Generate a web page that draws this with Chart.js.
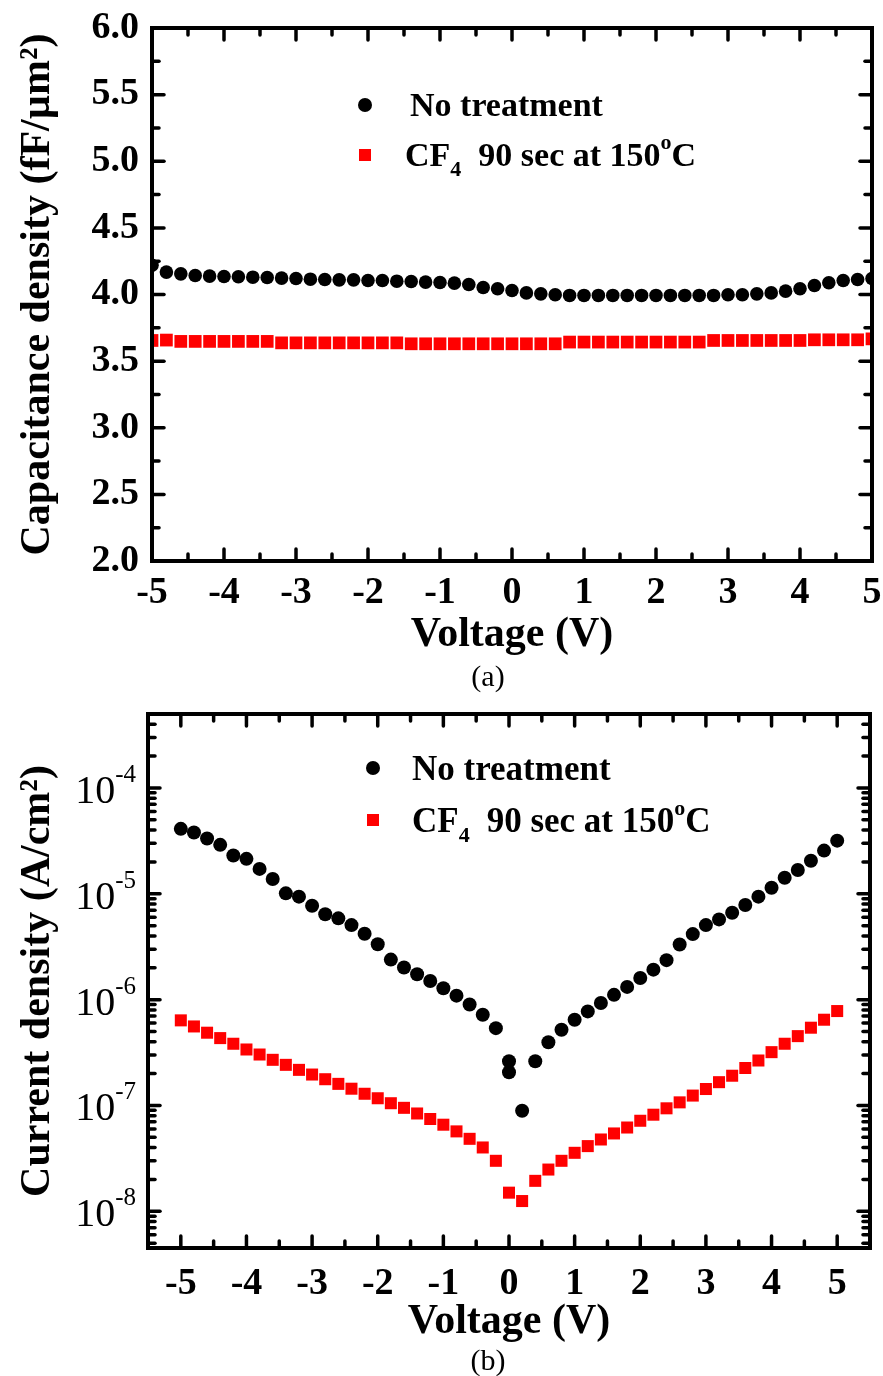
<!DOCTYPE html>
<html>
<head>
<meta charset="utf-8">
<script src="https://cdn.jsdelivr.net/npm/chart.js@4.4.1/dist/chart.umd.min.js"></script>
<style>
  body { margin: 0; background: #fff; }
  #page { position: relative; width: 883px; height: 1376px; overflow: hidden; }
  canvas { position: absolute; left: 0; }
  .tag { position: absolute; left: 438px; width: 100px; text-align: center;
         font: 30px 'Liberation Serif', 'Times New Roman', serif; line-height: 30px; }
</style>
</head>
<body>
<div id="page">
  <canvas id="capChart" width="883" height="690" style="top:0"></canvas>
  <canvas id="curChart" width="883" height="686" style="top:690px"></canvas>
  <div class="tag" style="top:661px">(a)</div>
  <div class="tag" style="top:1345px">(b)</div>
</div>
<script>
const serif = "'Liberation Serif', 'Times New Roman', serif";

// sweep voltage (V)
const voltage = [-5, -4.8, -4.6, -4.4, -4.2, -4, -3.8, -3.6, -3.4, -3.2, -3, -2.8, -2.6, -2.4, -2.2, -2,
  -1.8, -1.6, -1.4, -1.2, -1, -0.8, -0.6, -0.4, -0.2, 0, 0.2, 0.4, 0.6, 0.8, 1, 1.2, 1.4, 1.6, 1.8, 2,
  2.2, 2.4, 2.6, 2.8, 3, 3.2, 3.4, 3.6, 3.8, 4, 4.2, 4.4, 4.6, 4.8, 5];

// (a) capacitance density (fF/um2)
const capNone = [4.22, 4.168, 4.155, 4.143, 4.138, 4.135, 4.133, 4.13, 4.128, 4.123, 4.12, 4.115, 4.113,
  4.11, 4.11, 4.105, 4.105, 4.10, 4.098, 4.093, 4.09, 4.085, 4.075, 4.053, 4.043, 4.03, 4.012, 4.005,
  3.998, 3.993, 3.993, 3.993, 3.993, 3.993, 3.993, 3.993, 3.993, 3.993, 3.993, 3.993, 3.998, 3.998,
  4.005, 4.012, 4.025, 4.043, 4.068, 4.088, 4.105, 4.113, 4.12];
const capCF4 = [3.655, 3.658, 3.648, 3.648, 3.648, 3.648, 3.648, 3.648, 3.648, 3.637, 3.637, 3.637,
  3.637, 3.637, 3.637, 3.637, 3.637, 3.637, 3.63, 3.63, 3.63, 3.63, 3.63, 3.63, 3.63, 3.63, 3.63, 3.63,
  3.63, 3.643, 3.643, 3.643, 3.643, 3.643, 3.643, 3.643, 3.643, 3.643, 3.643, 3.655, 3.655, 3.655,
  3.655, 3.655, 3.655, 3.655, 3.66, 3.66, 3.66, 3.66, 3.667];

// (b) current density (A/cm2); untreated sweep has two readings at 0 V
const curVoltageNone = [-5, -4.8, -4.6, -4.4, -4.2, -4, -3.8, -3.6, -3.4, -3.2, -3, -2.8, -2.6, -2.4,
  -2.2, -2, -1.8, -1.6, -1.4, -1.2, -1, -0.8, -0.6, -0.4, -0.2, 0, 0, 0.2, 0.4, 0.6, 0.8, 1, 1.2, 1.4,
  1.6, 1.8, 2, 2.2, 2.4, 2.6, 2.8, 3, 3.2, 3.4, 3.6, 3.8, 4, 4.2, 4.4, 4.6, 4.8, 5];
const curNone = [4.11e-5, 3.8e-5, 3.33e-5, 2.9e-5, 2.3e-5, 2.14e-5, 1.72e-5, 1.38e-5, 1.01e-5, 9.4e-6,
  7.7e-6, 6.4e-6, 5.86e-6, 5.06e-6, 4.19e-6, 3.34e-6, 2.39e-6, 2.01e-6, 1.74e-6, 1.5e-6, 1.28e-6,
  1.09e-6, 9.0e-7, 7.2e-7, 5.38e-7, 2.62e-7, 2.06e-7, 8.9e-8, 2.62e-7, 3.96e-7, 5.19e-7, 6.45e-7,
  7.74e-7, 9.3e-7, 1.11e-6, 1.32e-6, 1.6e-6, 1.92e-6, 2.36e-6, 3.32e-6, 4.16e-6, 5.06e-6, 5.73e-6,
  6.62e-6, 7.83e-6, 9.4e-6, 1.14e-5, 1.42e-5, 1.68e-5, 2.05e-5, 2.56e-5, 3.18e-5];
const curCF4 = [6.37e-7, 5.58e-7, 4.87e-7, 4.33e-7, 3.83e-7, 3.38e-7, 3.03e-7, 2.7e-7, 2.42e-7, 2.17e-7,
  1.96e-7, 1.77e-7, 1.6e-7, 1.44e-7, 1.29e-7, 1.17e-7, 1.05e-7, 9.5e-8, 8.4e-8, 7.45e-8, 6.58e-8,
  5.69e-8, 4.84e-8, 4.01e-8, 3.0e-8, 1.5e-8, 1.25e-8, 1.94e-8, 2.48e-8, 3.0e-8, 3.57e-8, 4.13e-8,
  4.77e-8, 5.44e-8, 6.19e-8, 7.17e-8, 8.18e-8, 9.4e-8, 1.07e-7, 1.24e-7, 1.43e-7, 1.66e-7, 1.91e-7,
  2.26e-7, 2.66e-7, 3.19e-7, 3.83e-7, 4.52e-7, 5.43e-7, 6.46e-7, 7.8e-7];

// axis ticks
const voltageTicks = [-5, -4, -3, -2, -1, 0, 1, 2, 3, 4, 5];
const capTicks = [2.0, 2.5, 3.0, 3.5, 4.0, 4.5, 5.0, 5.5, 6.0];
const curDecades = [1e-8, 1e-7, 1e-6, 1e-5, 1e-4];
const curExponents = ['-8', '-7', '-6', '-5', '-4'];

const seriesNames = ['No treatment', 'CF\u2084 90 sec at 150\u00b0C'];
const legendParts = [
    [{ text: 'No treatment' }],
    [{ text: 'CF' }, { text: '4', small: true, dy: 10, gap: 17 }, { text: '90 sec at 150' },
     { text: 'o', small: true, dy: -17 }, { text: 'C' }],
];

const pts = (xs, ys) => xs.map((x, i) => ({ x, y: ys[i] }));

// inward ticks on all four sides + heavy frame
const frameTicks = {
    id: "frameTicks",
    afterDraw(chart, args, opts) {
        const { ctx, chartArea: a, scales: { x, y } } = chart;
        const line = (x1, y1, x2, y2) => { ctx.beginPath(); ctx.moveTo(x1, y1); ctx.lineTo(x2, y2); ctx.stroke(); };
        ctx.save();
        ctx.strokeStyle = "#000";
        ctx.lineCap = "round";
        ctx.lineWidth = 3.5;
        const xt = (list, len) => list.forEach((v) => {
            const p = x.getPixelForValue(v);
            line(p, a.bottom, p, a.bottom - len);
            line(p, a.top, p, a.top + len);
        });
        const yt = (list, len) => list.forEach((v) => {
            const p = y.getPixelForValue(v);
            line(a.left, p, a.left + len, p);
            line(a.right, p, a.right - len, p);
        });
        xt(opts.xMajor, 12); xt(opts.xMinor, 7);
        yt(opts.yMajor, 12); yt(opts.yMinor, 7);
        ctx.lineCap = "square";
        ctx.lineWidth = 4;
        ctx.strokeRect(a.left, a.top, a.right - a.left, a.bottom - a.top);
        ctx.restore();
    },
};

// legend with sub/superscripts
const richLegend = {
    id: "richLegend",
    afterDraw(chart, args, opts) {
        const { ctx } = chart;
        ctx.save();
        ctx.fillStyle = "#000";
        ctx.textBaseline = "alphabetic";
        legendParts.forEach((parts, i) => {
            const cy = opts.y + i * opts.gapY;
            if (i === 0) {
                ctx.beginPath(); ctx.arc(opts.markerX, cy, 7, 0, Math.PI * 2); ctx.fill();
            } else {
                ctx.fillStyle = "#ff0000";
                ctx.fillRect(opts.markerX - 6, cy - 6, 12, 12);
                ctx.fillStyle = "#000";
            }
            let x = opts.textX[i];
            const base = cy + opts.size * 0.33;
            parts.forEach((p) => {
                const size = p.small ? Math.round(opts.size * 0.64) : opts.size;
                ctx.font = `bold ${size}px ${serif}`;
                ctx.fillText(p.text, x, base + (p.dy || 0));
                x += ctx.measureText(p.text).width + (p.gap || 0);
            });
        });
        ctx.restore();
    },
};

// 10^n labels for the log axis
const powerLabels = {
    id: "powerLabels",
    afterDraw(chart) {
        const { ctx, scales: { y } } = chart;
        ctx.save();
        ctx.fillStyle = "#000";
        ctx.textAlign = "right";
        ctx.textBaseline = "alphabetic";
        curDecades.forEach((v, i) => {
            const py = y.getPixelForValue(v);
            const right = 136;
            ctx.font = `25px ${serif}`;
            const ew = ctx.measureText(curExponents[i]).width;
            ctx.fillText(curExponents[i], right, py - 6);
            ctx.font = `40px ${serif}`;
            ctx.fillText("10", right - ew, py + 15);
        });
        ctx.restore();
    },
};

const unitSteps = (from, to) => { const r = []; for (let v = from; v <= to + 1e-9; v += 1) r.push(+v.toFixed(2)); return r; };
const capMinor = [2.25, 2.75, 3.25, 3.75, 4.25, 4.75, 5.25, 5.75];
const logMinor = () => {
    const r = [];
    [1e-9, 1e-8, 1e-7, 1e-6, 1e-5, 1e-4].forEach((d) => {
        for (let k = 2; k <= 9; k++) { const v = k * d; if (v > 4.5e-9 && v < 5e-4) r.push(v); }
    });
    return r;
};

const axisTitle = { family: serif, size: 42, weight: "bold" };
// line heights kept small so label padding does not push the plot area in
const xTickFont = { family: serif, size: 38, weight: "bold", lineHeight: 1.7 };
const yTickFont = { family: serif, size: 38, weight: "bold", lineHeight: 0.7 };

new Chart(document.getElementById("capChart"), {
    type: "scatter",
    data: {
        datasets: [
            {
                label: seriesNames[0],
                data: pts(voltage, capNone),
                pointStyle: "circle",
                pointRadius: 6.8,
                pointBorderWidth: 0,
                backgroundColor: "#000",
                clip: 0,
            },
            {
                label: seriesNames[1],
                data: pts(voltage, capCF4),
                pointStyle: "rect",
                pointRadius: 9,
                pointBorderWidth: 0,
                backgroundColor: "#ff0000",
                clip: 0,
            },
        ],
    },
    options: {
        responsive: false,
        animation: false,
        layout: { padding: { top: 28, right: 11, left: 0, bottom: 0 } },
        plugins: {
            legend: { display: false },
            tooltip: { enabled: false },
            frameTicks: {
                xMajor: voltageTicks, xMinor: unitSteps(-4.5, 4.5),
                yMajor: capTicks, yMinor: capMinor,
            },
            richLegend: { markerX: 365, textX: [410, 405], y: 105, gapY: 50, size: 34 },
        },
        scales: {
            x: {
                type: "linear",
                min: -5,
                max: 5,
                afterBuildTicks: (s) => { s.ticks = voltageTicks.map((value) => ({ value })); },
                afterFit: (s) => { s.height = 129; },
                grid: { display: false, drawTicks: false },
                border: { display: false },
                ticks: { color: "#000", font: xTickFont, padding: 0, autoSkip: false, maxRotation: 0,
                         callback: (v) => String(v) },
                title: { display: true, text: "Voltage (V)", color: "#000", font: axisTitle,
                         padding: { top: 0, bottom: 30 } },
            },
            y: {
                min: 2,
                max: 6,
                afterBuildTicks: (s) => { s.ticks = capTicks.map((value) => ({ value })); },
                afterFit: (s) => { s.width = 152; },
                grid: { display: false, drawTicks: false },
                border: { display: false },
                ticks: { color: "#000", font: yTickFont, padding: 13, callback: (v) => v.toFixed(1) },
                title: { display: true, text: "Capacitance density (fF/\u00b5m\u00b2)", color: "#000",
                         font: axisTitle, padding: { top: 13, bottom: 0 } },
            },
        },
    },
    plugins: [frameTicks, richLegend],
});

new Chart(document.getElementById("curChart"), {
    type: "scatter",
    data: {
        datasets: [
            {
                label: seriesNames[0],
                data: pts(curVoltageNone, curNone),
                pointStyle: "circle",
                pointRadius: 7,
                pointBorderWidth: 0,
                backgroundColor: "#000",
                clip: 0,
            },
            {
                label: seriesNames[1],
                data: pts(voltage, curCF4),
                pointStyle: "rect",
                pointRadius: 8.5,
                pointBorderWidth: 0,
                backgroundColor: "#ff0000",
                clip: 0,
            },
        ],
    },
    options: {
        responsive: false,
        animation: false,
        layout: { padding: { top: 24, right: 13, left: 0, bottom: 0 } },
        plugins: {
            legend: { display: false },
            tooltip: { enabled: false },
            frameTicks: {
                xMajor: voltageTicks, xMinor: unitSteps(-5.5, 5.5),
                yMajor: curDecades, yMinor: logMinor(),
            },
            richLegend: { markerX: 373, textX: [412, 412], y: 78, gapY: 52, size: 35 },
        },
        scales: {
            x: {
                type: "linear",
                min: -5.5,
                max: 5.5,
                afterBuildTicks: (s) => { s.ticks = voltageTicks.map((value) => ({ value })); },
                afterFit: (s) => { s.height = 128; },
                grid: { display: false, drawTicks: false },
                border: { display: false },
                ticks: { color: "#000", font: xTickFont, padding: 4, autoSkip: false, maxRotation: 0,
                         callback: (v) => String(v) },
                title: { display: true, text: "Voltage (V)", color: "#000", font: axisTitle,
                         padding: { top: 0, bottom: 29 } },
            },
            y: {
                type: "logarithmic",
                min: 4.5e-9,
                max: 5e-4,
                afterFit: (s) => { s.width = 148; },
                grid: { display: false, drawTicks: false },
                border: { display: false },
                ticks: { display: false },
                title: { display: true, text: "Current density (A/cm\u00b2)", color: "#000",
                         font: axisTitle, padding: { top: 13, bottom: 0 } },
            },
        },
    },
    plugins: [frameTicks, richLegend, powerLabels],
});
</script>
</body>
</html>
